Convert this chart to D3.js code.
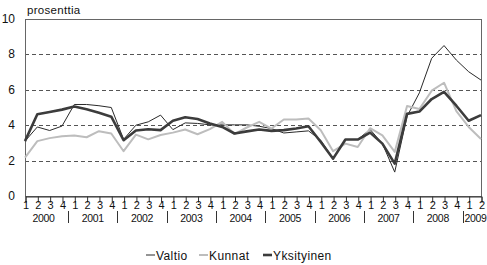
<!DOCTYPE html>
<html>
<head>
<meta charset="utf-8">
<script src="https://cdn.jsdelivr.net/npm/d3@7"></script>
<style>
  body { margin: 0; background: #fff; }
  svg text { font-family: "Liberation Sans", Arial, sans-serif; fill: #111; }
</style>
</head>
<body>
<div id="chart"></div>
<script>
'use strict';

// quarters 2000Q1 .. 2009Q2
var years = [2000, 2001, 2002, 2003, 2004, 2005, 2006, 2007, 2008, 2009];
var quarters = [];
years.forEach(function(y) {
    [1, 2, 3, 4].forEach(function(q) {
        if (y < 2009 || q <= 2) quarters.push(y + 'Q' + q)
    })
});

var valtio = [3.1, 3.9, 3.7, 3.95, 5.17, 5.17, 5.1, 5.0,
    3.2, 4.0, 4.19, 4.57, 3.75, 4.13, 4.1, 4.02,
    4.02, 4.02, 4.02, 3.94, 3.81, 3.56, 3.62, 3.68,
    3.15, 2.11, 3.19, 3.19, 3.76, 2.96, 1.35, 4.5,
    5.83, 7.78, 8.5, 7.68, 7.02, 6.55];
var kunnat = [2.17, 3.1, 3.27, 3.38, 3.42, 3.32, 3.66, 3.53,
    2.53, 3.47, 3.2, 3.45, 3.58, 3.76, 3.49, 3.78,
    4.19, 3.5, 3.87, 4.19, 3.81, 4.32, 4.32, 4.38,
    3.72, 2.53, 2.96, 2.77, 3.83, 3.43, 2.49, 5.08,
    4.91, 5.95, 6.4, 4.8, 3.9, 3.22];
var yksityinen = [3.1, 4.62, 4.75, 4.88, 5.06, 4.9, 4.7, 4.48,
    3.15, 3.7, 3.77, 3.72, 4.25, 4.45, 4.35, 4.1,
    3.9, 3.53, 3.65, 3.76, 3.68, 3.72, 3.81, 3.94,
    3.05, 2.11, 3.19, 3.19, 3.58, 2.96, 1.83, 4.64,
    4.77, 5.48, 5.88, 5.1, 4.25, 4.57];

var yTicks = [0, 2, 4, 6, 8, 10];

var series = [
    {name: 'Valtio', values: valtio, color: '#2a2a2a', width: 1},
    {name: 'Kunnat', values: kunnat, color: '#bdbdbd', width: 2},
    {name: 'Yksityinen', values: yksityinen, color: '#3c3c3c', width: 2.6}
];

var W = 487, H = 265;
var plot = {left: 25, right: 481, top: 19, bottom: 196};

var svg = d3.select('#chart').append('svg')
    .attr('width', W)
    .attr('height', H)

var x = d3.scalePoint().domain(quarters).range([plot.left, plot.right]).padding(0);
var y = d3.scaleLinear().domain([0, 10]).range([plot.bottom, plot.top]);

// gridlines
svg.append('g').selectAll('line').data(yTicks.filter(function(d) { return d > 0 && d < 10 }))
    .enter().append('line')
        .attr('x1', plot.left).attr('x2', plot.right)
        .attr('y1', function(d) { return Math.round(y(d)) + 0.5 })
        .attr('y2', function(d) { return Math.round(y(d)) + 0.5 })
        .attr('stroke', '#555')
        .attr('stroke-dasharray', '4,3')

// frame
svg.append('rect')
    .attr('x', plot.left + 0.5).attr('y', plot.top + 0.5)
    .attr('width', plot.right - plot.left).attr('height', plot.bottom - plot.top)
    .attr('fill', 'none')
    .attr('stroke', '#666')

// y labels
svg.append('g').selectAll('text').data(yTicks)
    .enter().append('text')
        .attr('x', 15)
        .attr('y', function(d) { return y(d) + 4 })
        .attr('text-anchor', 'end')
        .style('font-size', '12px')
        .text(function(d) { return d })

svg.append('text')
    .attr('x', 27).attr('y', 14)
    .style('font-size', '11.5px')
    .style('letter-spacing', '0.3px')
    .text('prosenttia')

// x axis, quarter numbers
var xAxis = d3.axisBottom(x).tickSize(6).tickFormat(function(d) { return d.slice(-1) });
var gx = svg.append('g')
    .attr('transform', 'translate(0.5,' + (plot.bottom + 0.5) + ')')
    .call(xAxis)
gx.select('.domain').attr('stroke', '#333')
gx.selectAll('.tick line').attr('stroke', '#333')
gx.selectAll('.tick text')
    .attr('y', 5)
    .style('font-size', '11px')
    .style('font-family', '"Liberation Sans", Arial, sans-serif')
    .attr('fill', '#111')

// year labels and separators
var step = x.step();
years.forEach(function(yr) {
    var qs = quarters.filter(function(q) { return q.indexOf(yr + 'Q') === 0 });
    var x0 = x(qs[0]), x1 = x(qs[qs.length - 1]);
    var sepX = Math.round(x0 - step / 2) + 0.5;
    if (yr > 2000) {
        svg.append('line')
            .attr('x1', sepX).attr('x2', sepX)
            .attr('y1', 211).attr('y2', 223)
            .attr('stroke', '#333')
    }
    svg.append('text')
        .attr('x', yr === 2009 ? sepX + 1 : (x0 + x1) / 2)
        .attr('y', 222)
        .attr('text-anchor', yr === 2009 ? 'start' : 'middle')
        .style('font-size', '10.5px')
        .style('letter-spacing', '-0.3px')
        .text(yr)
});

// lines
var line = d3.line()
    .x(function(d, i) { return x(quarters[i]) })
    .y(function(d) { return y(d) });

svg.append('g').selectAll('path').data(series)
    .enter().append('path')
        .attr('d', function(d) { return line(d.values) })
        .attr('fill', 'none')
        .attr('stroke', function(d) { return d.color })
        .attr('stroke-width', function(d) { return d.width })
        .attr('stroke-linejoin', 'round')

// legend
var legendX = [146, 199, 263];
var lg = svg.append('g').selectAll('g').data(series)
    .enter().append('g')
        .attr('transform', function(d, i) { return 'translate(' + legendX[i] + ',255)' })
lg.append('line')
    .attr('x1', 0).attr('x2', 9)
    .attr('stroke', function(d) { return d.color })
    .attr('stroke-width', function(d) { return d.width })
lg.append('text')
    .attr('x', 10).attr('y', 4.5)
    .style('font-size', '12px')
    .style('letter-spacing', '0.4px')
    .text(function(d) { return d.name })
</script>
</body>
</html>
